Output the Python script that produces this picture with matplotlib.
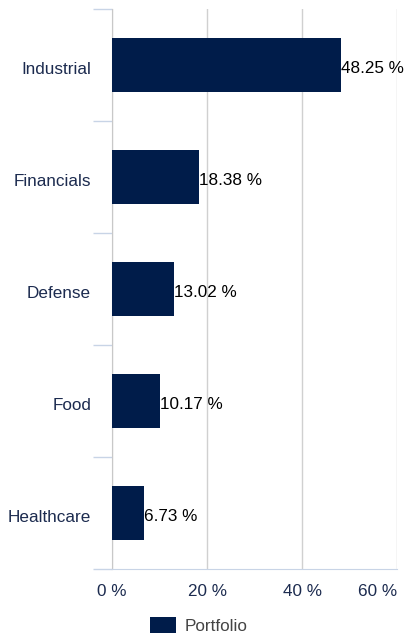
import numpy as np
import matplotlib.pyplot as plt

plt.rcParams['font.family'] = ['Liberation Sans', 'DejaVu Sans']

categories = ['Industrial', 'Financials', 'Defense', 'Food', 'Healthcare']
values = [48.25, 18.38, 13.02, 10.17, 6.73]
xticks = [0, 20, 40, 60]

bar_color = '#001c4a'
text_color = '#1c2b4f'
fs = 12.3

fig = plt.figure(figsize=(4.06, 6.33), dpi=100)
ax = fig.add_axes([0.276, 0.101, 0.702, 0.885])

y = np.arange(len(categories))
bars = ax.barh(y, values, height=0.48, color=bar_color, label='Portfolio', zorder=3)

# value labels at bar ends
for yi, v in zip(y, values):
    ax.text(v, yi + 0.03, f'{v:.2f} %', va='center', ha='left', fontsize=fs, color='black', zorder=4)

ax.set_ylim(len(categories) - 0.5, -0.5)
ax.set_xlim(0, 60)
ax.set_xticks(xticks)
ax.set_xticklabels([f'{t} %' for t in xticks], fontsize=fs, color=text_color)
ax.get_xticklabels()[-1].set_horizontalalignment('right')
ax.set_yticks(y + 0.03)
ax.set_yticklabels(categories, fontsize=fs, color=text_color)

# category boundary ticks on the left
ax.set_yticks(np.arange(-0.5, len(categories), 1), minor=True)
ax.tick_params(axis='y', which='major', length=0, pad=15)
ax.tick_params(axis='y', which='minor', length=14, color='#c8d4e6', width=1)
ax.tick_params(axis='x', length=0, pad=11)

ax.grid(axis='x', color='#d0d0d0', linewidth=1, zorder=0)
for s in ['top', 'right']:
    ax.spines[s].set_visible(False)
ax.spines['left'].set_color('#c8c8c8')
ax.spines['bottom'].set_color('#c8d4e6')

fig.legend(loc='lower center', bbox_to_anchor=(0.49, -0.026), frameon=False, fontsize=fs,
           handlelength=1.5, handleheight=1.1, handletextpad=0.5, labelcolor='#444444')

fig.savefig('out.png', dpi=100)
